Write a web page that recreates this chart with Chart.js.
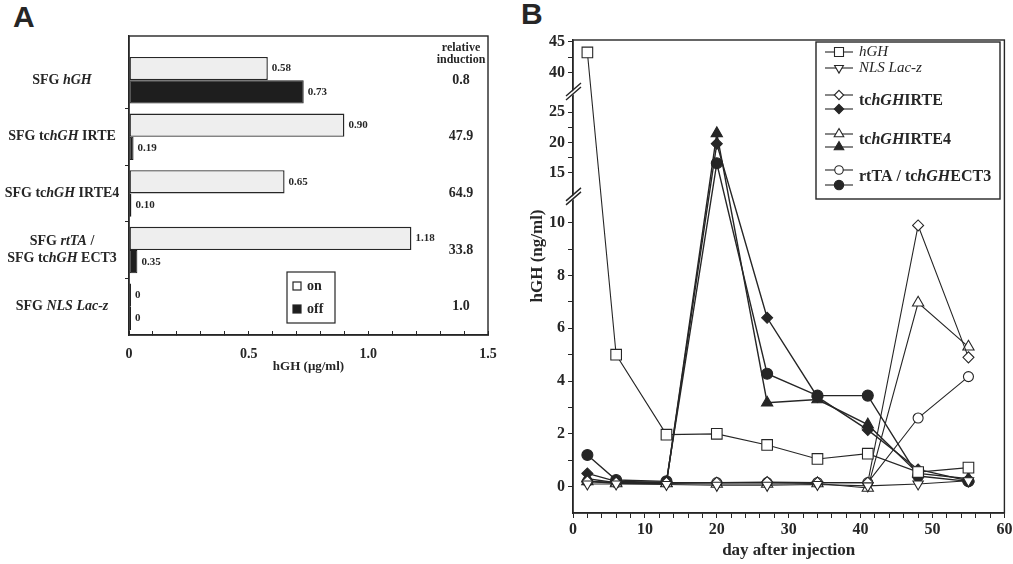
<!DOCTYPE html>
<html>
<head>
<meta charset="utf-8">
<script src="https://cdn.jsdelivr.net/npm/chart.js@4.4.1/dist/chart.umd.min.js"></script>
<style>
  body { margin: 0; background: #fff; width: 1013px; height: 564px; overflow: hidden; position: relative; }
  canvas { position: absolute; top: 0; }
  #cA { left: 0; }
  #cB { left: 505px; }
  .tag { position: absolute; font: bold 30px "Liberation Sans", Arial, sans-serif; color: #262626; }
</style>
</head>
<body>
<div class="tag" style="left:13px;top:0px">A</div>
<div class="tag" style="left:521px;top:-3px">B</div>
<canvas id="cA" width="505" height="564"></canvas>
<canvas id="cB" width="508" height="564"></canvas>
<script>
// ---- panel A data ----
var constructs = ['SFG <i>hGH</i>', 'SFG tc<i>hGH</i> IRTE', 'SFG tc<i>hGH</i> IRTE4',
                  'SFG <i>rtTA</i> /|SFG tc<i>hGH</i> ECT3', 'SFG <i>NLS Lac-z</i>'];
var onValues = [0.58, 0.90, 0.65, 1.18, 0];
var offValues = [0.73, 0.019, 0.010, 0.035, 0];
var onLabels = ['0.58', '0.90', '0.65', '1.18', '0'];
var offLabels = ['0.73', '0.19', '0.10', '0.35', '0'];
var induction = ['0.8', '47.9', '64.9', '33.8', '1.0'];
var xTicksA = [0, 0.5, 1.0, 1.5];
var xTickTextA = ['0', '0.5', '1.0', '1.5'];

// ---- panel B data ----
var days = [2, 6, 13, 20, 27, 34, 41, 48, 55];
var hGH      = [43.3, 5.0, 1.97, 2.0, 1.58, 1.05, 1.25, 0.55, 0.72];
var nlsLacZ  = [0.10, 0.10, 0.08, 0.05, 0.05, 0.08, 0.03, 0.10, 0.22];
var irteOn   = [0.20, 0.15, 0.15, 0.15, 0.17, 0.15, 0.15, 9.9, 4.9];
var irteOff  = [0.50, 0.20, 0.17, 19.8, 6.4, 3.4, 2.15, 0.65, 0.22];
var irte4On  = [0.20, 0.12, 0.12, 0.10, 0.10, 0.12, -0.05, 6.97, 5.3];
var irte4Off = [0.30, 0.15, 0.13, 21.5, 3.18, 3.3, 2.35, 0.50, 0.30];
var ect3On   = [0.20, 0.15, 0.15, 0.15, 0.15, 0.15, 0.15, 2.6, 4.17];
var ect3Off  = [1.20, 0.25, 0.20, 16.6, 4.28, 3.45, 3.45, 0.40, 0.20];
var yTicksB = [0, 2, 4, 6, 8, 10, 15, 20, 25, 40, 45];
var yMinorB = [1, 3, 5, 7, 9, 17.5, 22.5, 42.5];
var xTicksB = [0, 10, 20, 30, 40, 50, 60];

var FONT = '"Liberation Serif", "Times New Roman", serif';
var INK = '#262626';
Chart.defaults.font.family = FONT;
Chart.defaults.color = INK;

// broken y axis: real value -> axis unit
var yAxisMap = [[-1, -1], [10, 10], [15, 11.89], [25, 14.2], [40, 15.68], [45, 16.86]];
function mapPiece(v, a, b) {
  var m = yAxisMap, i = 1;
  while (i < m.length - 1 && v > m[i][a]) i++;
  var p = m[i - 1], q = m[i];
  return p[b] + (v - p[a]) * (q[b] - p[b]) / (q[a] - p[a]);
}
function toAxis(v) { return mapPiece(v, 0, 1); }
function fromAxis(u) { return mapPiece(u, 1, 0); }

class BrokenScale extends Chart.LinearScale {
  getPixelForValue(v) { return super.getPixelForValue(toAxis(v)); }
  getValueForPixel(p) { return fromAxis(super.getValueForPixel(p)); }
}
BrokenScale.id = 'broken';
BrokenScale.defaults = {};
Chart.register(BrokenScale);

function richText(ctx, text, x, y, size, bold, align) {
  var parts = text.split(/(<i>.*?<\/i>)/).filter(function (s) { return s.length; });
  var fonts = parts.map(function (p) {
    return (p.indexOf('<i>') === 0 ? 'italic ' : '') + (bold ? 'bold ' : '') + size + 'px ' + FONT;
  });
  var strs = parts.map(function (p) { return p.replace(/<\/?i>/g, ''); });
  var w = 0;
  strs.forEach(function (s, i) { ctx.font = fonts[i]; w += ctx.measureText(s).width; });
  var cx = align === 'center' ? x - w / 2 : x;
  ctx.textAlign = 'left';
  ctx.textBaseline = 'middle';
  strs.forEach(function (s, i) {
    ctx.font = fonts[i];
    ctx.fillText(s, cx, y);
    cx += ctx.measureText(s).width;
  });
}

function marker(ctx, style, rot, x, y, r, fill) {
  ctx.beginPath();
  if (style === 'rect') {
    var s = r * Math.SQRT1_2;
    ctx.rect(x - s, y - s, 2 * s, 2 * s);
  } else if (style === 'rectRot') {
    ctx.moveTo(x, y - r); ctx.lineTo(x + r, y); ctx.lineTo(x, y + r); ctx.lineTo(x - r, y); ctx.closePath();
  } else if (style === 'triangle') {
    var a = rot * Math.PI / 180;
    for (var k = 0; k < 3; k++) {
      var t = a + k * 2 * Math.PI / 3;
      ctx.lineTo(x + Math.sin(t) * r, y - Math.cos(t) * r);
    }
    ctx.closePath();
  } else {
    ctx.arc(x, y, r, 0, Math.PI * 2);
  }
  ctx.fillStyle = fill;
  ctx.fill();
  ctx.stroke();
}

var frame = {
  id: 'frame',
  afterDraw: function (chart) {
    var a = chart.chartArea, ctx = chart.ctx;
    ctx.save();
    ctx.strokeStyle = INK;
    ctx.lineWidth = 1.4;
    ctx.strokeRect(a.left, a.top, a.right - a.left, a.bottom - a.top);
    ctx.restore();
  }
};

// ---------- panel A ----------
var panelA = {
  id: 'panelA',
  afterDraw: function (chart) {
    var ctx = chart.ctx, ys = chart.scales.y, a = chart.chartArea;
    ctx.save();
    ctx.fillStyle = INK;
    constructs.forEach(function (name, i) {
      var lines = name.split('|');
      var cy = ys.getPixelForValue(i);
      lines.forEach(function (ln, k) {
        richText(ctx, ln, 62, cy + (k - (lines.length - 1) / 2) * 17, 14, true, 'center');
      });
    });
    [onLabels, offLabels].forEach(function (labels, d) {
      chart.getDatasetMeta(d).data.forEach(function (bar, i) {
        ctx.font = 'bold 11px ' + FONT;
        ctx.textAlign = 'left';
        ctx.textBaseline = 'middle';
        ctx.fillText(labels[i], bar.x + 4, bar.y);
      });
    });
    var ix = a.right - 27;
    ctx.textAlign = 'center';
    ctx.font = 'bold 12px ' + FONT;
    ctx.fillText('relative', ix, a.top + 12);
    ctx.fillText('induction', ix, a.top + 24);
    ctx.font = 'bold 14px ' + FONT;
    induction.forEach(function (t, i) { ctx.fillText(t, ix, ys.getPixelForValue(i)); });

    // legend box
    ctx.strokeStyle = INK;
    ctx.lineWidth = 1.2;
    ctx.strokeRect(287, 272, 48, 51);
    var ds = chart.data.datasets;
    [286, 309].forEach(function (ly, d) {
      ctx.fillStyle = d === 0 ? '#fff' : ds[1].backgroundColor;
      ctx.fillRect(293, ly - 4, 8, 8);
      ctx.strokeRect(293, ly - 4, 8, 8);
      ctx.fillStyle = INK;
      ctx.font = 'bold 14px ' + FONT;
      ctx.textAlign = 'left';
      ctx.fillText(ds[d].label, 307, ly);
    });
    ctx.restore();
  }
};

new Chart(document.getElementById('cA'), {
  type: 'bar',
  data: {
    datasets: [
      { label: 'on', data: onValues.map(function (v, i) { return { x: v, y: i }; }),
        backgroundColor: '#eeeeee', borderColor: INK, borderWidth: 1.4, borderSkipped: false,
        minBarLength: 2, barPercentage: 1, categoryPercentage: 0.82 },
      { label: 'off', data: offValues.map(function (v, i) { return { x: v, y: i }; }),
        backgroundColor: '#1e1e1e', borderColor: '#1e1e1e', borderWidth: 1, borderSkipped: false,
        minBarLength: 2, barPercentage: 1, categoryPercentage: 0.82 }
    ]
  },
  options: {
    indexAxis: 'y',
    responsive: false,
    animation: false,
    layout: { padding: { top: 36, right: 17, left: 0, bottom: 0 } },
    plugins: { legend: { display: false }, tooltip: { enabled: false } },
    scales: {
      x: {
        type: 'linear', min: 0, max: 1.5, bounds: 'data', offset: false,
        afterBuildTicks: function (s) {
          var t = [];
          for (var i = 0; i <= 15; i++) t.push({ value: i / 10 });
          s.ticks = t;
        },
        ticks: {
          autoSkip: false, maxRotation: 0, padding: 15, color: INK,
          font: { family: FONT, weight: 'bold', size: 14 },
          callback: function (v) {
            var k = xTicksA.findIndex(function (t) { return Math.abs(t - v) < 1e-6; });
            return k < 0 ? '' : xTickTextA[k];
          }
        },
        grid: { drawOnChartArea: false, tickLength: -4, color: INK },
        border: { color: INK, width: 1.4 },
        title: { display: true, text: 'hGH (\u03bcg/ml)', color: INK,
                 font: { family: FONT, weight: 'bold', size: 13 }, padding: { top: 0, bottom: 190 } },
        afterFit: function (s) { s.height = 229; s.paddingRight = 0; s.paddingLeft = 0; }
      },
      y: {
        type: 'linear', reverse: true, min: -0.78, max: 4.5, bounds: 'data', offset: false,
        afterBuildTicks: function (s) {
          s.ticks = [0.5, 1.5, 2.5, 3.5].map(function (v) { return { value: v }; });
        },
        ticks: { display: false },
        grid: { drawOnChartArea: false, offset: false, tickLength: 4, color: INK },
        border: { color: INK, width: 1.4 },
        afterFit: function (s) { s.width = 129; s.paddingTop = 0; s.paddingBottom = 0; }
      }
    }
  },
  plugins: [frame, panelA]
});

// ---------- panel B ----------
var seriesB = [
  { data: hGH,      style: 'rect',     rot: 0,   r: 7.5, filled: false },
  { data: nlsLacZ,  style: 'triangle', rot: 180, r: 6,   filled: false },
  { data: irteOn,   style: 'rectRot',  rot: 0,   r: 5.5, filled: false },
  { data: irteOff,  style: 'rectRot',  rot: 0,   r: 5.5, filled: true },
  { data: irte4On,  style: 'triangle', rot: 0,   r: 6.5, filled: false },
  { data: irte4Off, style: 'triangle', rot: 0,   r: 6.5, filled: true },
  { data: ect3On,   style: 'circle',   rot: 0,   r: 5,   filled: false },
  { data: ect3Off,  style: 'circle',   rot: 0,   r: 5.5, filled: true }
];
var legendGroups = [
  ['<i>hGH</i>', [0], false],
  ['<i>NLS Lac-z</i>', [1], false],
  ['tc<i>hGH</i>IRTE', [2, 3], true],
  ['tc<i>hGH</i>IRTE4', [4, 5], true],
  ['rtTA / tc<i>hGH</i>ECT3', [6, 7], true]
];

var panelB = {
  id: 'panelB',
  afterDraw: function (chart) {
    var ctx = chart.ctx, ys = chart.scales.y, a = chart.chartArea;
    ctx.save();
    // axis breaks
    [12.6, 32.7].forEach(function (v) {
      var py = ys.getPixelForValue(v), px = a.left;
      ctx.fillStyle = '#fff';
      ctx.beginPath();
      ctx.moveTo(px - 6, py + 4); ctx.lineTo(px + 8, py - 8);
      ctx.lineTo(px + 8, py - 4); ctx.lineTo(px - 6, py + 8);
      ctx.closePath(); ctx.fill();
      ctx.strokeStyle = INK; ctx.lineWidth = 1.4;
      ctx.beginPath();
      ctx.moveTo(px - 7, py + 4); ctx.lineTo(px + 8, py - 9);
      ctx.moveTo(px - 7, py + 8); ctx.lineTo(px + 8, py - 5);
      ctx.stroke();
    });
    // y title
    ctx.fillStyle = INK;
    ctx.translate(33, 256);
    ctx.rotate(-Math.PI / 2);
    ctx.font = 'bold 17px ' + FONT;
    ctx.textAlign = 'center'; ctx.textBaseline = 'middle';
    ctx.fillText('hGH (ng/ml)', 0, 0);
    ctx.setTransform(1, 0, 0, 1, 0, 0);
    // legend
    ctx.strokeStyle = INK; ctx.lineWidth = 1.4;
    ctx.fillStyle = '#fff';
    ctx.fillRect(311, 42, 184, 157);
    ctx.strokeRect(311, 42, 184, 157);
    var rowY = [[52], [68], [95, 109], [134, 147], [170, 185]];
    var textY = [52, 68, 101, 140, 177];
    ctx.lineWidth = 1.1;
    legendGroups.forEach(function (g, gi) {
      g[1].forEach(function (si, k) {
        var s = seriesB[si], y = rowY[gi][k];
        ctx.beginPath(); ctx.moveTo(320, y); ctx.lineTo(348, y); ctx.stroke();
        marker(ctx, s.style, s.rot, 334, y, s.r * 0.85, s.filled ? INK : '#fff');
      });
      ctx.fillStyle = INK;
      richText(ctx, g[0], 354, textY[gi], g[2] ? 16 : 15, g[2], 'left');
    });
    ctx.restore();
  }
};

new Chart(document.getElementById('cB'), {
  type: 'line',
  data: {
    datasets: seriesB.map(function (s) {
      return {
        data: days.map(function (d, i) { return { x: d, y: s.data[i] }; }),
        borderColor: INK, borderWidth: s.filled ? 1.4 : 1.1, tension: 0,
        pointStyle: s.style, pointRotation: s.rot, pointRadius: s.r,
        pointBackgroundColor: s.filled ? INK : '#fff', pointBorderColor: INK, pointBorderWidth: 1.1
      };
    })
  },
  options: {
    responsive: false,
    animation: false,
    layout: { padding: { top: 40, right: 8, left: 0, bottom: 0 } },
    plugins: { legend: { display: false }, tooltip: { enabled: false } },
    scales: {
      x: {
        type: 'linear', min: 0, max: 60, bounds: 'data',
        afterBuildTicks: function (s) {
          var t = [];
          for (var v = 0; v <= 60; v += 2) t.push({ value: v });
          s.ticks = t;
        },
        ticks: {
          autoSkip: false, maxRotation: 0, padding: 2, color: INK,
          font: { family: FONT, weight: 'bold', size: 16 },
          callback: function (v) { return xTicksB.indexOf(v) < 0 ? '' : String(v); }
        },
        grid: { drawOnChartArea: false, tickLength: 5, color: INK },
        border: { color: INK, width: 1.4 },
        title: { display: true, text: 'day after injection', color: INK,
                 font: { family: FONT, weight: 'bold', size: 17 }, padding: { top: 0, bottom: 3 } },
        afterFit: function (s) { s.height = 51; s.paddingRight = 0; s.paddingLeft = 0; }
      },
      y: {
        type: 'broken', min: toAxis(-1), max: toAxis(45.3), bounds: 'data',
        afterBuildTicks: function (s) {
          s.ticks = yTicksB.concat(yMinorB).sort(function (p, q) { return p - q; })
            .map(function (v) { return { value: v }; });
        },
        ticks: {
          autoSkip: false, padding: 3, color: INK,
          font: { family: FONT, weight: 'bold', size: 16 },
          callback: function (v) { return yTicksB.indexOf(v) < 0 ? '' : String(v); }
        },
        grid: { drawOnChartArea: false, tickLength: 5, color: INK },
        border: { color: INK, width: 1.4 },
        afterFit: function (s) { s.width = 68; s.paddingTop = 0; s.paddingBottom = 0; }
      }
    }
  },
  plugins: [frame, panelB]
});
</script>
</body>
</html>
